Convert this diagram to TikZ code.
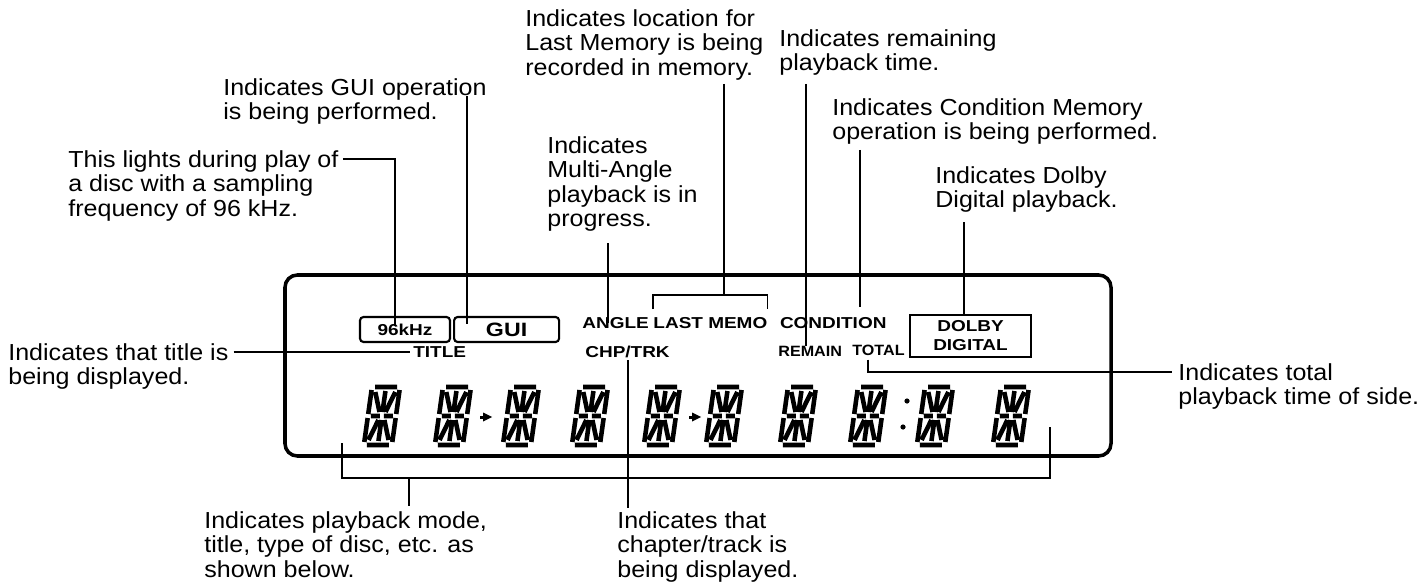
\documentclass[tikz,border=0pt]{standalone}
\usepackage{fontspec}
\setmainfont{Liberation Sans}[FakeStretch=1.08]
\newfontfamily\lcdfont{Liberation Sans}[FakeStretch=1.2]
\usetikzlibrary{positioning}

\begin{document}
\begin{tikzpicture}[
  x=0.02cm, y=-0.02cm,
  note/.style={anchor=north west, align=left, inner sep=0pt,
               font=\fontsize{13.2}{14}\selectfont},
  lcd/.style={inner sep=0pt, font=\lcdfont\bfseries\fontsize{9}{10.8}\selectfont},
  lcdsmall/.style={inner sep=0pt, font=\bfseries\fontsize{8.5}{10}\selectfont},
  lcdbox/.style={lcd, draw, line width=1.2pt, align=center},
  pill/.style={lcd, draw, line width=1.2pt, rounded corners=2pt},
  panel/.style={line width=2pt, rounded corners=7pt},
  seg/.style={line width=2.6pt, line cap=butt},
  lead/.style={line width=0.9pt},
  leadthin/.style={line width=0.6pt}
]
\useasboundingbox (0,0) rectangle (1424,588);

% display window
\draw[panel] (285,275) rectangle (1111,456);

\node[pill, minimum width=1.8cm, minimum height=0.5cm] (khz) at (405,329.5) {96kHz};
\node[pill, right=0.04cm of khz, minimum width=2.1cm, minimum height=0.5cm,
      font=\lcdfont\bfseries\fontsize{11}{12}\selectfont] (gui) {GUI};
\node[lcd, anchor=west] (angle) at (582,323) {ANGLE};
\node[lcd, right=0.08cm of angle] (lastmemo) {LAST MEMO};
\node[lcd, right=0.24cm of lastmemo] (condition) {CONDITION};
\node[lcdbox, minimum width=2.42cm, minimum height=0.84cm] (dolby) at (970.5,336) {DOLBY\\DIGITAL};
\node[lcd, anchor=west] (title) at (413,352) {TITLE};
\node[lcd, anchor=west] (chptrk) at (585,352) {CHP/TRK};
\node[lcdsmall, anchor=west] (remain) at (778,351) {REMAIN};
\node[lcdsmall, anchor=west] (total) at (852,350) {TOTAL};

% segment digits
\foreach \dx in {382,453,521,590,662,724,798,868,935,1011} {
  \begin{scope}[shift={(\dx+4,387)}, xslant=0.14]
    \draw[seg] (-11,0) -- (11,0)  (-11,58) -- (11,58)
      (-14,3) -- (-14,27)  (-14,31) -- (-14,55)
      (14,3) -- (14,27)  (14,31) -- (14,55)
      (-11,29) -- (-2,29)  (2,29) -- (11,29)
      (0,4) -- (0,25)  (0,33) -- (0,54)
      (-10,5) -- (-3,25)  (10,5) -- (3,25)
      (-10,53) -- (-3,33)  (10,53) -- (3,33);
  \end{scope}
}
\foreach \ax in {488,697} {
  \fill (\ax-8,415.5) rectangle (\ax-4,418.5);
  \fill (\ax-5,412.5) -- (\ax+4,417) -- (\ax-5,421.5) -- cycle;
}
\fill (907,401) circle (2.6);
\fill (903,427) circle (2.6);

% notes
\node[note] (n-memo) at (525,9) {Indicates location for\\Last Memory is being\\recorded in memory.};
\node[note] (n-remain) at (779,29) {Indicates remaining\\playback time.};
\node[note] (n-gui) at (223,78) {Indicates GUI operation\\is being performed.};
\node[note] (n-cond) at (832,98) {Indicates Condition Memory\\operation is being performed.};
\node[note] (n-angle) at (547,136) {Indicates\\Multi-Angle\\playback is in\\progress.};
\node[note] (n-khz) at (68,150) {This lights during play of\\a disc with a sampling\\frequency of 96 kHz.};
\node[note] (n-dolby) at (935,166) {Indicates Dolby\\Digital playback.};
\node[note] (n-title) at (8,343) {Indicates that title is\\being displayed.};
\node[note] (n-total) at (1178,363) {Indicates total\\playback time of side.};
\node[note] (n-mode) at (204,511) {Indicates playback mode,\\title, type of disc, etc. as\\shown below.};
\node[note] (n-chap) at (617,511) {Indicates that\\chapter/track is\\being displayed.};

% leader lines
\coordinate (ldr-gui) at (467,96);
\coordinate (ldr-memo) at (724,84);
\coordinate (ldr-remain) at (806,84);
\coordinate (ldr-cond) at (860,150);
\coordinate (ldr-angle) at (608,243);
\coordinate (ldr-dolby) at (964,222);
\coordinate (memo-bar) at ([shift={(0,-22)}]lastmemo.north);

\draw[lead] ([shift={(4,9)}]n-khz.north east) -| ([shift={(-10,10)}]khz.north);
\draw[leadthin] (ldr-gui) -- (ldr-gui |- gui.north) -- ++(0,8);
\draw[lead] (ldr-memo) -- (ldr-memo |- memo-bar);
\draw[lead] ([shift={(0,-8)}]lastmemo.north west) -- ([shift={(0,-22)}]lastmemo.north west)
  -- ([shift={(0,-22)}]lastmemo.north east) -- ([shift={(0,-8)}]lastmemo.north east);
\draw[lead] (ldr-remain) -- (ldr-remain |- remain.north);
\draw[leadthin, shorten >=6pt] (ldr-cond) -- (ldr-cond |- condition.north);
\draw[lead] (ldr-angle) -- (ldr-angle |- angle.center);
\draw[lead] (ldr-dolby) -- (ldr-dolby |- dolby.north);
\draw[lead] ([shift={(16,4)}]total.south west) |- ([shift={(-6,9)}]n-total.north west);
\draw[lead, shorten >=4.5pt] ([shift={(5,9)}]n-title.north east) -- ([shift={(5,9)}]n-title.north east -| title.west);
\draw[lead, shorten >=3pt] ([shift={(43,2)}]chptrk.south west) -- ([shift={(43,2)}]chptrk.south west |- n-chap.north);

% bracket under the digits
\coordinate (brk-l) at (342,443);
\coordinate (brk-bl) at (342,478);
\coordinate (brk-br) at (1050,478);
\coordinate (brk-r) at (1050,427);
\coordinate (brk-mode) at (409,478);
\draw[lead] (brk-l) -- (brk-bl) -- (brk-br) -- (brk-r);
\draw[lead, shorten >=3pt] (brk-mode) -- (brk-mode |- n-mode.north);

\end{tikzpicture}
\end{document}
